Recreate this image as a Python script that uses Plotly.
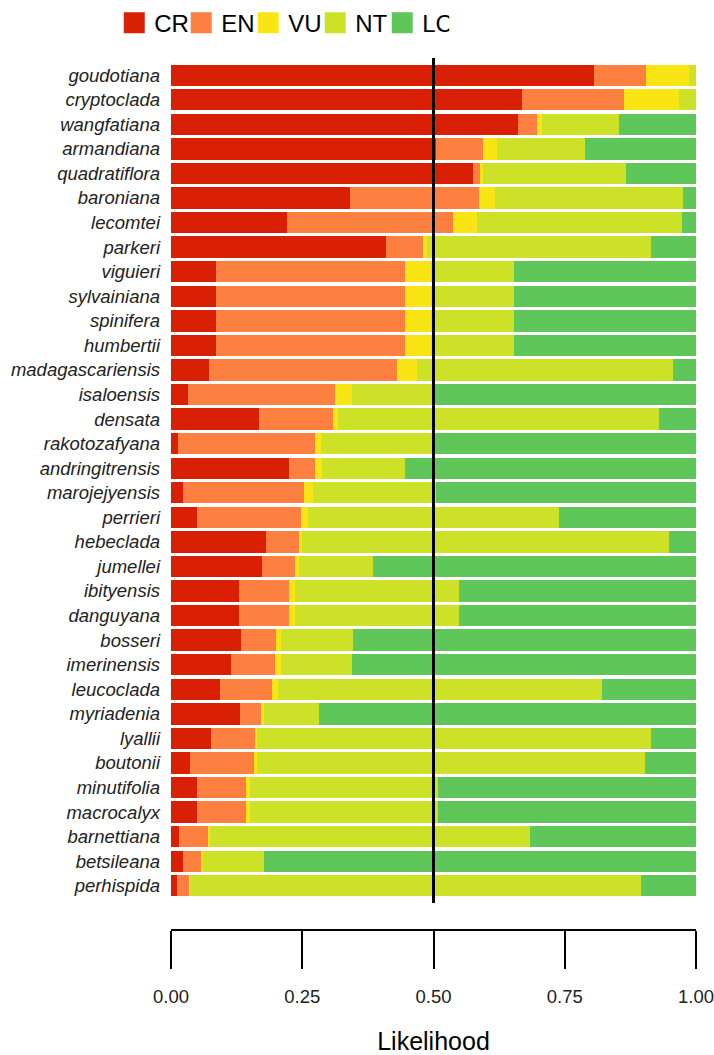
import plotly.graph_objects as go

species = ["goudotiana", "cryptoclada", "wangfatiana", "armandiana", "quadratiflora",
           "baroniana", "lecomtei", "parkeri", "viguieri", "sylvainiana", "spinifera",
           "humbertii", "madagascariensis", "isaloensis", "densata", "rakotozafyana",
           "andringitrensis", "marojejyensis", "perrieri", "hebeclada", "jumellei",
           "ibityensis", "danguyana", "bosseri", "imerinensis", "leucoclada",
           "myriadenia", "lyallii", "boutonii", "minutifolia", "macrocalyx",
           "barnettiana", "betsileana", "perhispida"]

CR = [0.805, 0.669, 0.660, 0.505, 0.575, 0.341, 0.220, 0.410, 0.086, 0.086, 0.086,
      0.086, 0.072, 0.032, 0.167, 0.013, 0.225, 0.023, 0.050, 0.181, 0.174, 0.130,
      0.130, 0.134, 0.115, 0.094, 0.132, 0.076, 0.037, 0.050, 0.050, 0.016, 0.023, 0.011]
EN = [0.099, 0.194, 0.038, 0.090, 0.013, 0.246, 0.318, 0.070, 0.359, 0.359, 0.359,
      0.359, 0.359, 0.281, 0.142, 0.262, 0.050, 0.231, 0.197, 0.063, 0.063, 0.095,
      0.095, 0.066, 0.083, 0.099, 0.039, 0.085, 0.121, 0.092, 0.092, 0.056, 0.036, 0.024]
VU = [0.083, 0.105, 0.009, 0.025, 0.006, 0.031, 0.044, 0.007, 0.050, 0.050, 0.050,
      0.050, 0.037, 0.031, 0.010, 0.011, 0.013, 0.016, 0.014, 0.006, 0.007, 0.011,
      0.011, 0.009, 0.011, 0.010, 0.007, 0.002, 0.005, 0.009, 0.009, 0.002, 0.002, 0.001]
NT = [0.013, 0.032, 0.147, 0.169, 0.272, 0.357, 0.391, 0.428, 0.159, 0.159, 0.159,
      0.159, 0.488, 0.153, 0.610, 0.211, 0.157, 0.235, 0.478, 0.698, 0.141, 0.312,
      0.312, 0.137, 0.135, 0.617, 0.103, 0.752, 0.739, 0.357, 0.357, 0.610, 0.117, 0.860]
LC = [0.000, 0.000, 0.146, 0.211, 0.134, 0.025, 0.027, 0.085, 0.346, 0.346, 0.346,
      0.346, 0.044, 0.503, 0.071, 0.503, 0.555, 0.495, 0.261, 0.052, 0.615, 0.452,
      0.452, 0.654, 0.656, 0.180, 0.719, 0.085, 0.098, 0.492, 0.492, 0.316, 0.822, 0.104]

categories = ["CR", "EN", "VU", "NT", "LC"]
colors = ["#d92005", "#fd8040", "#f9e514", "#cde128", "#5fc75a"]
tick_vals = [0, 0.25, 0.5, 0.75, 1.0]
threshold = 0.5

fig = go.Figure()
for name, vals, col in zip(categories, [CR, EN, VU, NT, LC], colors):
    fig.add_trace(go.Bar(y=species, x=vals, orientation="h", name=name,
                         marker=dict(color=col, line=dict(width=0)),
                         width=0.87, showlegend=False, hoverinfo="x+y+name"))
for name, col in zip(categories, colors):
    fig.add_trace(go.Scatter(x=[None], y=[None], mode="markers", name=name,
                             marker=dict(symbol="square", size=16, color=col,
                                         line=dict(color=col, width=5)),
                             showlegend=True))

fig.add_shape(type="line", xref="x", yref="y domain", x0=threshold, x1=threshold,
              y0=0, y1=1, line=dict(color="black", width=3))

fig.update_layout(
    width=714, height=1055,
    barmode="stack",
    plot_bgcolor="white", paper_bgcolor="white",
    margin=dict(l=171, r=18, t=58, b=115, autoexpand=False),
    font=dict(family="Liberation Sans, Arial, sans-serif", color="black"),
    legend=dict(orientation="h", xref="container", yref="container",
                x=0.16, y=0.978, xanchor="left", yanchor="middle",
                font=dict(size=24, color="black"), itemwidth=30, traceorder="normal",
                entrywidth=22, entrywidthmode="pixels"),
    xaxis=dict(range=[0, 1], anchor="free", position=0.0114, side="bottom",
               automargin=False, ticklabeloverflow="allow",
               showgrid=False, zeroline=False, showline=True, linecolor="black",
               linewidth=2, ticks="outside", ticklen=38, tickwidth=2,
               tickcolor="black", tickvals=tick_vals, tickformat=".2f",
               tickfont=dict(size=18.5, color="#222"), ticklabelstandoff=12,
               title=dict(text="Likelihood", font=dict(size=25), standoff=31)),
    yaxis=dict(domain=[0.042, 1], range=[33.7, -0.7], showgrid=False,
               automargin=False,
               zeroline=False, showline=False, ticks="",
               tickfont=dict(size=18.5, style="italic", color="#222"),
               ticklabelstandoff=10),
)

fig.write_html("out.html", config={"displayModeBar": False},
               post_script="document.body.style.margin='0';document.body.style.overflow='hidden';")
